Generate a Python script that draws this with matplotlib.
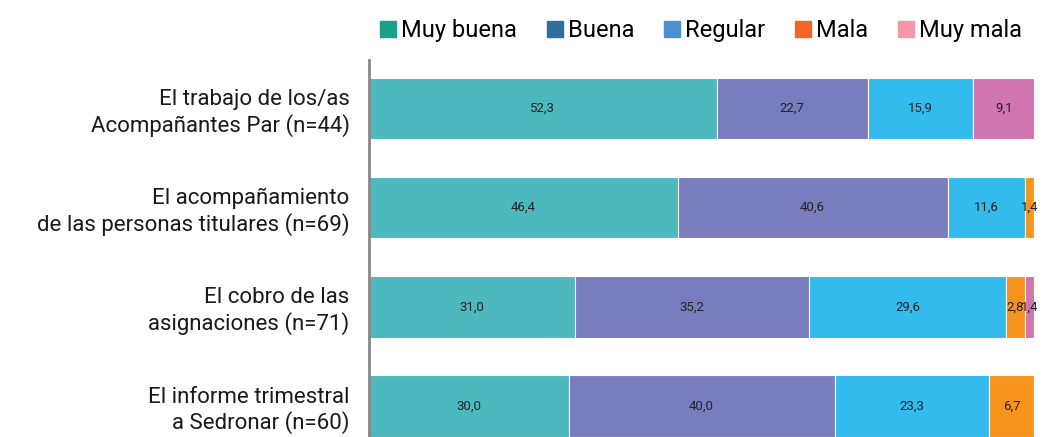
import numpy as np
import matplotlib
matplotlib.use("Agg")
from matplotlib import pyplot as plt
from matplotlib.lines import Line2D

# categorias (de arriba hacia abajo) y porcentajes por respuesta
categorias = [
    "El trabajo de los/as\nAcompañantes Par (n=44)",
    "El acompañamiento\nde las personas titulares (n=69)",
    "El cobro de las\nasignaciones (n=71)",
    "El informe trimestral\na Sedronar (n=60)",
]
respuestas = ["Muy buena", "Buena", "Regular", "Mala", "Muy mala"]
muy_buena = [52.3, 46.4, 31.0, 30.0]
buena = [22.7, 40.6, 35.2, 40.0]
regular = [15.9, 11.6, 29.6, 23.3]
mala = [0.0, 1.4, 2.8, 6.7]
muy_mala = [9.1, 0.0, 1.4, 0.0]

series = [muy_buena, buena, regular, mala, muy_mala]
colores_barras = ["#4db8be", "#7a7dbd", "#33bbee", "#f7941d", "#d175b0"]
colores_leyenda = ["#1b9e8a", "#2e6e9e", "#4d8fd0", "#f26522", "#f497aa"]

plt.rcParams['font.family'] = ['Roboto', 'DejaVu Sans']

fig = plt.figure(figsize=(10.43, 4.37), dpi=100)
ax = fig.add_axes([369 / 1043, 0, 665 / 1043, 1 - 60 / 437])

y = np.arange(len(categorias))
left = np.zeros(len(categorias))
for vals, col in zip(series, colores_barras):
    vals = np.array(vals)
    bars = ax.barh(y, vals, left=left, height=0.62, color=col,
                   edgecolor="white", linewidth=0.8)
    for b, v in zip(bars, vals):
        if v > 0:
            ax.text(b.get_x() + b.get_width() / 2, b.get_y() + b.get_height() / 2,
                    f"{v:.1f}".replace(".", ","), ha="center", va="center",
                    fontsize=9.5, color="#222222")
    left += vals

ax.set_xlim(0, 100)
ax.set_ylim(3.313, -0.49)
ax.set_yticks(y)
ax.set_yticklabels(categorias, fontsize=16, color="#1a1a1a", linespacing=1.2)
ax.tick_params(axis="y", length=0, pad=14)
ax.set_xticks([])
for s in ["top", "right", "bottom"]:
    ax.spines[s].set_visible(False)
ax.spines["left"].set_color("#888888")
ax.spines["left"].set_linewidth(2)

handles = [Line2D([0], [0], marker="s", linestyle="", markersize=11,
                  markerfacecolor=c, markeredgecolor=c) for c in colores_leyenda]
fig.legend(handles, respuestas, loc="upper right", bbox_to_anchor=(1.0, 1.005),
           ncol=5, frameon=False, fontsize=17, handletextpad=0.05,
           columnspacing=1.1, handlelength=1.0)

fig.savefig("out.png", dpi=100)
